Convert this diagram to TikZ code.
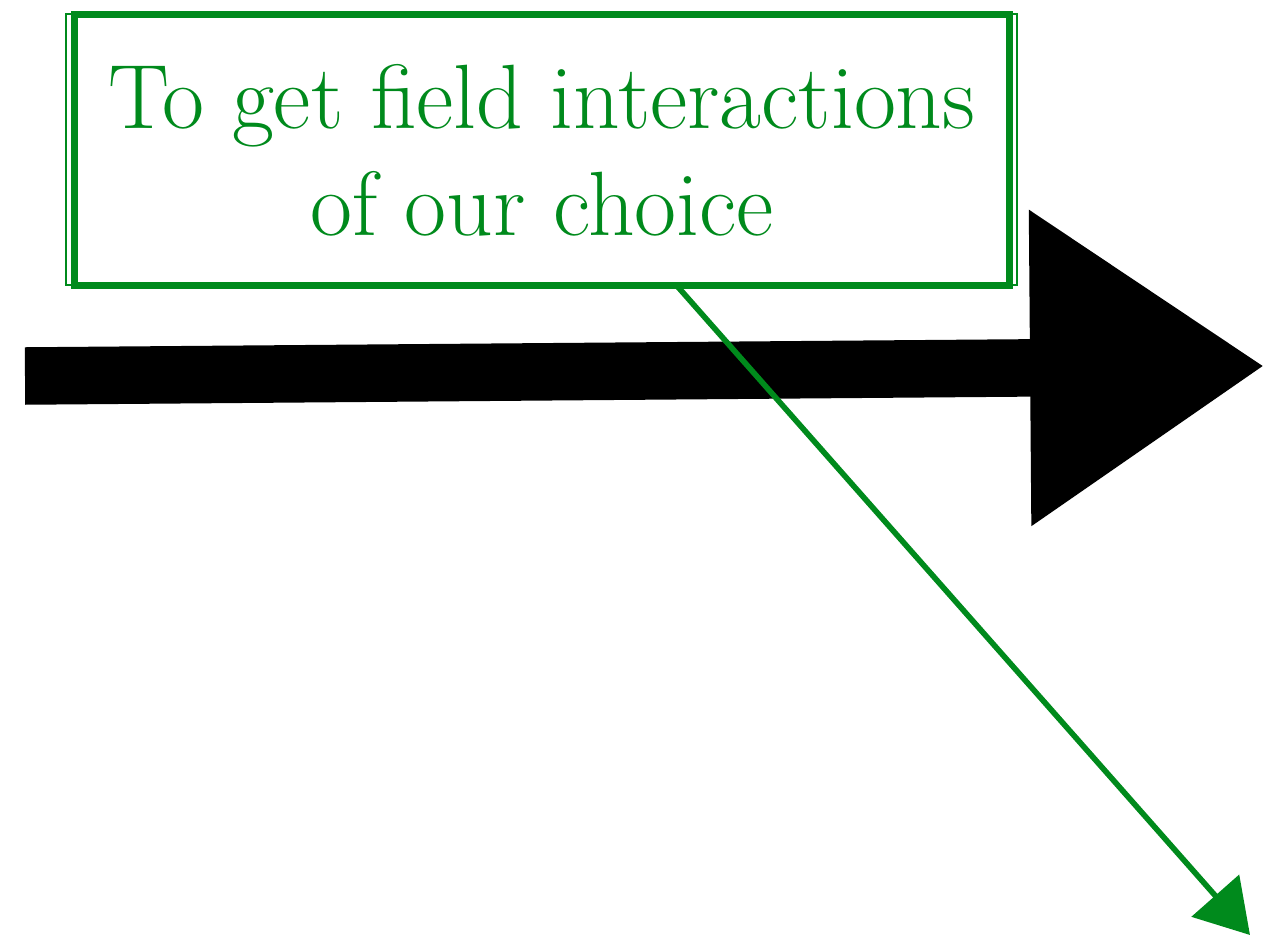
\documentclass[tikz,border=0pt]{standalone}
\usepackage{tikz}
\usetikzlibrary{arrows.meta}
\definecolor{grass}{RGB}{0,138,28}
\tikzset{
  note box/.style={draw=grass,line width=4pt,minimum width=18.7cm,minimum height=5.42cm,
    inner sep=0pt,align=center,text=grass,font=\fontsize{52}{61}\selectfont},
  brush/.style={draw=black,line width=1.15cm,
    -{Triangle[length=4.7cm,width=6cm]}},
  pointer/.style={draw=grass,line width=3.2pt,
    -{Triangle[length=1.05cm,width=1.25cm]}},
}
\begin{document}
\begin{tikzpicture}[x=0.02cm,y=-0.02cm]
  \useasboundingbox (0,0) rectangle (1265,937);
  % big brush arrow
  \coordinate (bfrom) at (25,376);
  \coordinate (bto) at (1265,366);
  \draw[brush] (bfrom) -- (bto);
  % label
  \node[note box] (note) at (542,150) {To get field interactions\\of our choice};
  \draw[grass,line width=1pt] ([shift={(-5,3)}]note.north west) rectangle ([shift={(4,-4)}]note.south east);
  % pointer
  \coordinate (gfrom) at (678,287);
  \coordinate (gto) at (1250,935);
  \draw[pointer] (gfrom) -- (gto);
\end{tikzpicture}
\end{document}
